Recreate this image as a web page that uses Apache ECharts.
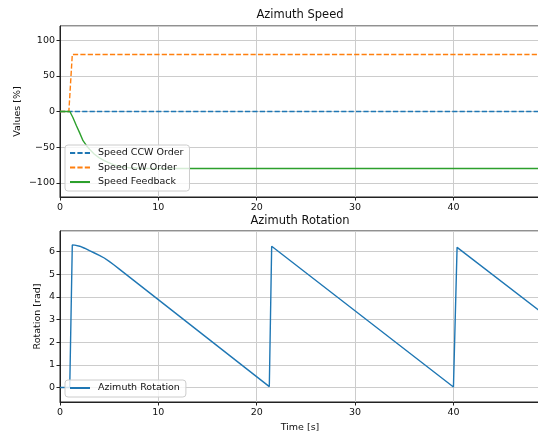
<!DOCTYPE html>
<html>
<head>
<meta charset="utf-8">
<script src="https://cdn.jsdelivr.net/npm/echarts@6/dist/echarts.min.js"></script>
<style>
  html, body { margin: 0; padding: 0; background: #fff; }
  #chart { width: 538px; height: 433px; }
</style>
</head>
<body>
<div id="chart"></div>
<script>
// x limit [s]
const timeMax = 48.8;

// Azimuth Speed [%]
const ccwTime = [0, 48.8];
const ccwOrder = [0, 0];
const cwTime = [0, 0.9, 1.25, 48.8];
const cwOrder = [0, 0, 80, 80];
const feedbackTime = [0, 1.0, 1.3, 1.67, 2.0, 2.34, 2.7, 3.0, 3.5, 4.0, 4.5, 5.0, 5.5, 6.0, 7.0, 8.5, 48.8];
const speedFeedback = [0, 0, -8, -20, -30, -41, -48, -53, -60, -65, -69, -72, -75, -77, -79, -80, -80];

// Azimuth Rotation [rad]
const rotationTime = [0, 0.99, 1.25, 1.5, 2.0, 2.5, 3.0, 3.5, 4.0, 4.5, 5.0, 5.5, 6.0, 21.28, 21.52, 40.0, 40.37, 48.8];
const rotation = [0, 0, 6.28, 6.275, 6.23, 6.14, 6.03, 5.93, 5.83, 5.71, 5.56, 5.4, 5.23, 0.04, 6.23, 0.02, 6.18, 3.37];

const FONT = 'DejaVu Sans';
const zip = (xs, ys) => xs.map((x, i) => [x, ys[i]]);
const minus = (v) => String(v).replace('-', '\u2212');

const chart = echarts.init(document.getElementById('chart'));

// common axis styles (matplotlib look)
const axisLine = { show: true, onZero: false, lineStyle: { color: '#222', width: 1 } };
const axisTick = { show: true, length: 3.5, lineStyle: { color: '#222', width: 1 } };
const splitLine = { show: true, lineStyle: { color: '#cccccc', width: 1 } };
const labelBase = { fontSize: 9.5, color: '#111', fontFamily: FONT, formatter: minus };
const xLabel = Object.assign({}, labelBase, { margin: 6, showMinLabel: true, showMaxLabel: false });
const yLabel = Object.assign({}, labelBase, { margin: 5, showMinLabel: false, showMaxLabel: false });
const nameStyle = { fontSize: 9.5, color: '#111', fontFamily: FONT };
const titleText = (text, y) => ({
  type: 'text',
  x: 300,
  y,
  style: { text, font: '11.5px "DejaVu Sans"', fill: '#111', textAlign: 'center', textVerticalAlign: 'middle' },
});
const legendBase = {
  orient: 'vertical',
  left: 65,
  itemWidth: 20,
  itemHeight: 10,
  itemGap: 4.5,
  padding: [3, 6, 4, 4],
  backgroundColor: 'rgba(255,255,255,0.8)',
  borderColor: '#cccccc',
  borderWidth: 1,
  borderRadius: 3,
  itemStyle: { opacity: 0 },
  textStyle: { fontSize: 9.5, color: '#111', fontFamily: FONT, lineHeight: 10, padding: [0, 0, 0, 3] },
};
const gridBase = { left: 60, right: -2, height: 171, show: true, borderColor: '#222', borderWidth: 1, outerBoundsMode: 'none', containLabel: false };
const lineSeries = (name, data, color, dashed, xi) => ({
  name,
  type: 'line',
  xAxisIndex: xi,
  yAxisIndex: xi,
  data,
  symbol: 'none',
  showSymbol: false,
  lineStyle: { color, width: 1.4, type: dashed ? [5.2, 2.2] : 'solid' },
  itemStyle: { color },
});

chart.setOption({
  animation: false,
  textStyle: { fontFamily: FONT },
  graphic: [titleText('Azimuth Speed', 15), titleText('Azimuth Rotation', 221)],
  grid: [
    Object.assign({}, gridBase, { top: 26 }),
    Object.assign({}, gridBase, { top: 231 }),
  ],
  legend: [
    Object.assign({}, legendBase, { top: 145, data: ['Speed CCW Order', 'Speed CW Order', 'Speed Feedback'] }),
    Object.assign({}, legendBase, { top: 380, data: ['Azimuth Rotation'] }),
  ],
  xAxis: [
    {
      gridIndex: 0, type: 'value', min: 0, max: timeMax, interval: 10,
      axisLine, axisTick, splitLine, axisLabel: xLabel,
    },
    {
      gridIndex: 1, type: 'value', min: 0, max: timeMax, interval: 10,
      axisLine, axisTick, splitLine, axisLabel: xLabel,
      name: 'Time [s]', nameLocation: 'middle', nameGap: 21, nameMoveOverlap: false, nameTextStyle: nameStyle,
    },
  ],
  yAxis: [
    {
      gridIndex: 0, type: 'value', min: -120, max: 120, splitNumber: 5,
      axisLine, axisTick, splitLine, axisLabel: yLabel,
      name: 'Values [%]', nameLocation: 'middle', nameGap: 37, nameMoveOverlap: false, nameTextStyle: nameStyle,
    },
    {
      gridIndex: 1, type: 'value', min: -0.64, max: 6.9, splitNumber: 7,
      axisLine, axisTick, splitLine, axisLabel: yLabel,
      name: 'Rotation [rad]', nameLocation: 'middle', nameGap: 17, nameMoveOverlap: false, nameTextStyle: nameStyle,
    },
  ],
  series: [
    lineSeries('Speed CCW Order', zip(ccwTime, ccwOrder), '#1f77b4', true, 0),
    lineSeries('Speed CW Order', zip(cwTime, cwOrder), '#ff7f0e', true, 0),
    lineSeries('Speed Feedback', zip(feedbackTime, speedFeedback), '#2ca02c', false, 0),
    lineSeries('Azimuth Rotation', zip(rotationTime, rotation), '#1f77b4', false, 1),
  ],
});
</script>
</body>
</html>
